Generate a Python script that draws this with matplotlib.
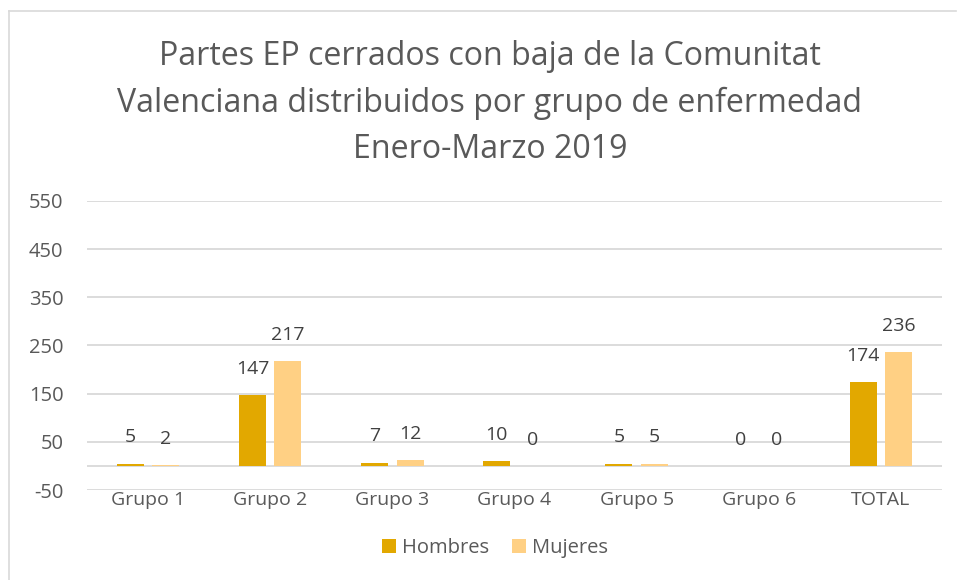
import matplotlib
matplotlib.use("Agg")
import matplotlib.pyplot as plt
from matplotlib.lines import Line2D
import numpy as np

plt.rcParams['font.family'] = ['Open Sans', 'DejaVu Sans']

categories = ["Grupo 1", "Grupo 2", "Grupo 3", "Grupo 4", "Grupo 5", "Grupo 6", "TOTAL"]
hombres = [5, 147, 7, 10, 5, 0, 174]
mujeres = [2, 217, 12, 0, 5, 0, 236]
yticks = [-50, 50, 150, 250, 350, 450, 550]
title = "Partes EP cerrados con baja de la Comunitat\nValenciana distribuidos por grupo de enfermedad\nEnero-Marzo 2019"

c_h = "#E2A800"
c_m = "#FFD084"
grey = "#595959"

fig = plt.figure(figsize=(9.57, 5.8), dpi=100)
ax = fig.add_axes([87/957, (580-490)/580, (942-87)/957, (490-201)/580])

x = np.arange(len(categories))
w = 0.22
off = 0.145
b1 = ax.bar(x - off, hombres, w, color=c_h, label="Hombres", zorder=3)
b2 = ax.bar(x + off, mujeres, w, color=c_m, label="Mujeres", zorder=3)

for bars, vals in ((b1, hombres), (b2, mujeres)):
    for r, v in zip(bars, vals):
        ax.annotate(str(v), (r.get_x() + r.get_width()/2, v), xytext=(0, 19),
                    textcoords="offset points", ha="center", va="center",
                    fontsize=14, color="#404040")

ax.set_ylim(-50, 550)
ax.set_xlim(-0.5, len(categories) - 0.5)
ax.set_yticks(yticks)
ax.set_yticklabels([str(t) for t in yticks])
ax.yaxis.grid(True, color="#D9D9D9", linewidth=1.3, zorder=0)
ax.axhline(0, color="#D9D9D9", linewidth=1.3, zorder=1)
for s in ax.spines.values():
    s.set_visible(False)
ax.tick_params(axis='y', length=0, labelsize=14.5, colors=grey, pad=17)
ax.tick_params(axis='x', length=0, labelsize=14, colors=grey, pad=1)
ax.set_xticks(x)
ax.set_xticklabels(categories)

fig.text(490/957, 1 - 103/580, title, ha="center", va="center",
         fontsize=23.1, color=grey, linespacing=1.53)

ax.legend(loc="center", bbox_to_anchor=(495/957, 1 - 548/580), bbox_transform=fig.transFigure,
          ncol=2, frameon=False, fontsize=14.5, handlelength=0.7, handleheight=0.7,
          handletextpad=0.3, columnspacing=1.1, labelcolor=grey)

fig.add_artist(Line2D([9/957, 956/957], [1 - 11/580, 1 - 11/580], transform=fig.transFigure,
                      color="#D9D9D9", linewidth=1.2))
fig.add_artist(Line2D([9/957, 9/957], [1 - 11/580, 0], transform=fig.transFigure,
                      color="#D9D9D9", linewidth=1.2))

fig.savefig("out.png", dpi=100, facecolor="white")
